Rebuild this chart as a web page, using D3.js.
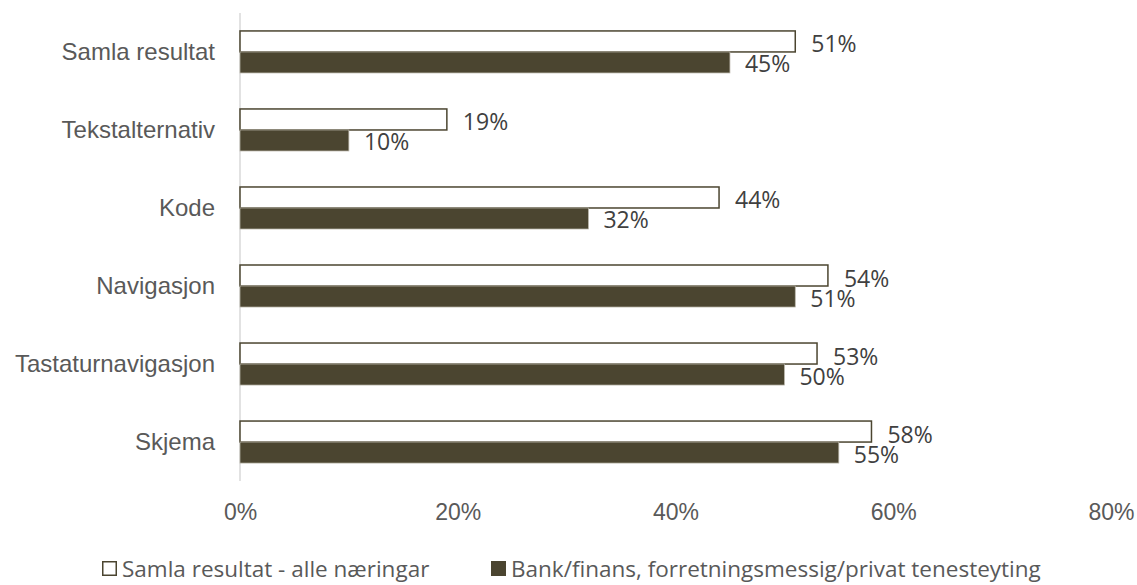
<!DOCTYPE html>
<html>
<head>
    <meta charset="utf-8">
    <title>Samla resultat</title>
    <script src="https://d3js.org/d3.v7.min.js"></script>
    <style type="text/css">
        body { margin: 0; background: #ffffff; }
        svg { font-family: "Open Sans", sans-serif; }
        .cat text { fill: #595959; font-size: 24px; }
        .xax text { fill: #595959; font-size: 23px; }
        .val { fill: #404040; font-size: 23px; }
        .leg { fill: #595959; font-size: 22.5px; }
    </style>
</head>
<body>
<div id="chart"></div>
<script>
// data
var categories = ["Samla resultat", "Tekstalternativ", "Kode", "Navigasjon", "Tastaturnavigasjon", "Skjema"]
var alleNaeringar = [51, 19, 44, 54, 53, 58]
var bankFinans = [45, 10, 32, 51, 50, 55]
var xTicks = [0, 20, 40, 60, 80]
var seriesNames = ["Samla resultat - alle næringar", "Bank/finans, forretningsmessig/privat tenesteyting"]

var width = 1137, height = 585
var dark = "#4b4530"

var svg = d3.select("#chart").append("svg")
    .attr("width", width)
    .attr("height", height)

var x = d3.scaleLinear().domain([0, 80]).range([240, 1111])
var y = d3.scaleBand().domain(categories).range([13, 481]).paddingInner(0.4615).paddingOuter(0.23)

// x axis labels (no line, no ticks)
var xAxis = svg.append("g")
    .attr("class", "xax")
    .attr("transform", "translate(0,504)")
    .call(d3.axisBottom(x).tickValues(xTicks).tickSize(0).tickFormat(function(d){ return d + "%" }))
xAxis.select(".domain").remove()
xAxis.selectAll("text").attr("dy", "0.71em").attr("y", 0)

// category axis
var yAxis = svg.append("g")
    .attr("class", "cat")
    .attr("transform", "translate(240,0)")
    .call(d3.axisLeft(y).tickSize(0).tickPadding(25))
yAxis.select(".domain").attr("stroke", "#d9d9d9").attr("stroke-width", 1.5)
    .attr("d", "M0,13V481")

var half = y.bandwidth() / 2
var rows = categories.map(function(c, i){ return {cat: c, a: alleNaeringar[i], b: bankFinans[i]} })

var g = svg.selectAll(".row").data(rows).enter().append("g").attr("class", "row")

g.append("rect")
    .attr("x", x(0))
    .attr("y", function(d){ return y(d.cat) })
    .attr("width", function(d){ return x(d.a) - x(0) })
    .attr("height", half)
    .attr("fill", "#ffffff")
    .attr("stroke", dark)
    .attr("stroke-width", 1.5)

g.append("rect")
    .attr("x", x(0))
    .attr("y", function(d){ return y(d.cat) + half })
    .attr("width", function(d){ return x(d.b) - x(0) })
    .attr("height", half)
    .attr("fill", dark)
    .attr("stroke", "#b8b4a8")
    .attr("stroke-width", 0.75)

g.append("text")
    .attr("class", "val")
    .attr("x", function(d){ return x(d.a) + 16 })
    .attr("y", function(d){ return y(d.cat) + half / 2 + 2 })
    .attr("dominant-baseline", "central")
    .text(function(d){ return d.a + "%" })

g.append("text")
    .attr("class", "val")
    .attr("x", function(d){ return x(d.b) + 15 })
    .attr("y", function(d){ return y(d.cat) + half * 1.5 + 1 })
    .attr("dominant-baseline", "central")
    .text(function(d){ return d.b + "%" })

// legend
var leg = svg.append("g").attr("transform", "translate(0,561)")
var legX = [102, 491]
seriesNames.forEach(function(name, i){
    leg.append("rect")
        .attr("x", legX[i] + 0.75).attr("y", 0.75)
        .attr("width", 13.5).attr("height", 13.5)
        .attr("fill", i == 0 ? "#ffffff" : dark)
        .attr("stroke", dark).attr("stroke-width", 1.5)
    leg.append("text")
        .attr("class", "leg")
        .attr("x", legX[i] + 20)
        .attr("y", 7)
        .attr("dominant-baseline", "central")
        .text(name)
})
</script>
</body>
</html>
